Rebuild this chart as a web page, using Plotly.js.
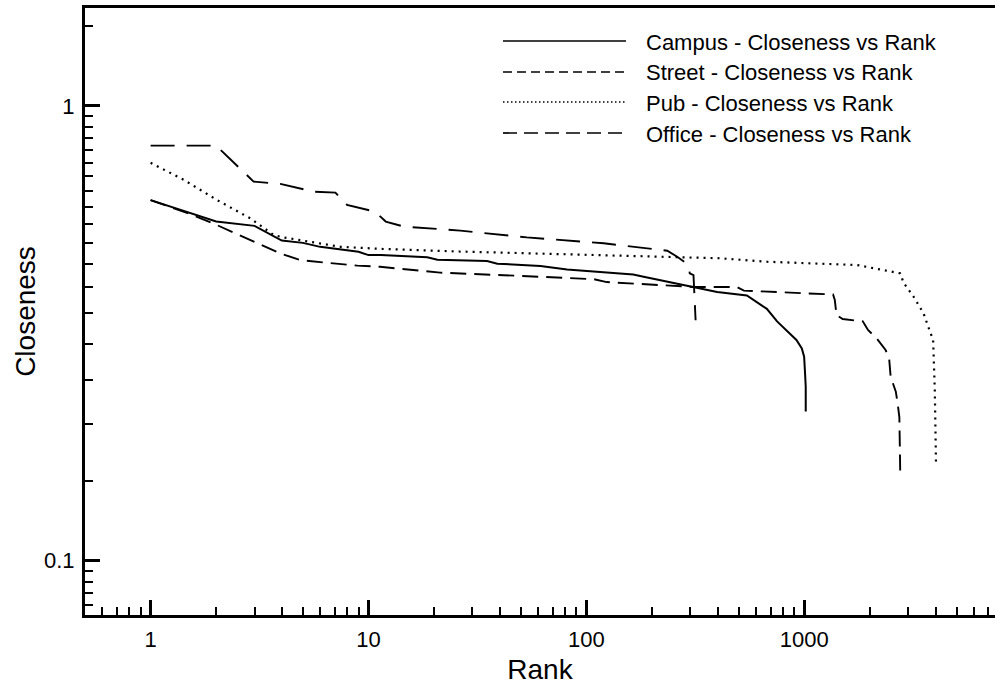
<!DOCTYPE html>
<html>
<head>
<meta charset="utf-8">
<script src="https://cdn.plot.ly/plotly-3.0.1.min.js"></script>
<style>html,body{margin:0;padding:0;background:#fff;}#chart{width:997px;height:687px;}</style>
</head>
<body>
<div id="chart"></div>
<script>
// ---- data (rank vs closeness, log-log) ----
const seriesNames = ["Campus - Closeness vs Rank", "Street - Closeness vs Rank", "Pub - Closeness vs Rank", "Office - Closeness vs Rank"];

const campusRank = [1, 2, 3, 4, 5, 6, 9, 10, 11.4, 18.6, 20.7, 35, 39, 61.5, 81.5, 164, 183, 310, 333, 398, 545, 583, 673, 750, 826, 920, 974, 998, 1008, 1015, 1015];
const campusCloseness = [0.621, 0.557, 0.545, 0.506, 0.50, 0.49, 0.478, 0.47, 0.47, 0.465, 0.459, 0.456, 0.45, 0.445, 0.437, 0.426, 0.421, 0.40, 0.397, 0.39, 0.383, 0.375, 0.358, 0.336, 0.3216, 0.3058, 0.293, 0.281, 0.258, 0.2414, 0.2128];

const streetRank = [1, 1.5, 2.02, 2.87, 3.94, 4.87, 8.9, 11.3, 18.6, 21.3, 49.6, 108, 124, 251, 310, 411, 490, 528, 1355, 1380, 1405, 1500, 1855, 1960, 2150, 2360, 2450, 2490, 2630, 2680, 2730, 2755];
const streetCloseness = [0.621, 0.58, 0.547, 0.5075, 0.474, 0.458, 0.4455, 0.443, 0.432, 0.43, 0.423, 0.416, 0.41, 0.402, 0.40, 0.40, 0.40, 0.3926, 0.385, 0.3745, 0.347, 0.34, 0.336, 0.3216, 0.308, 0.2906, 0.2787, 0.254, 0.2353, 0.222, 0.207, 0.157];

const pubRank = [1, 1.42, 2.02, 2.87, 3.68, 4.08, 7.45, 11.4, 26.4, 76, 242, 411, 673, 1744, 2750, 2860, 3170, 3525, 3750, 3900, 3970, 4020];
const pubCloseness = [0.75, 0.688, 0.621, 0.566, 0.52, 0.514, 0.49, 0.485, 0.4785, 0.4726, 0.466, 0.4625, 0.4545, 0.447, 0.4286, 0.408, 0.381, 0.35, 0.3216, 0.3058, 0.2373, 0.1648];

const officeRank = [1, 2, 2.97, 3.94, 5.6, 7.05, 7.97, 10.2, 10.96, 12, 14.5, 21.3, 26.4, 53.3, 120, 235, 261, 294, 298, 310, 317];
const officeCloseness = [0.818, 0.818, 0.682, 0.674, 0.648, 0.645, 0.606, 0.589, 0.58, 0.557, 0.543, 0.5355, 0.532, 0.514, 0.499, 0.4806, 0.466, 0.447, 0.4286, 0.4249, 0.338];

const xTickVals = [1, 10, 100, 1000];
const xTickText = ["1", "10", "100", "1000"];
const yTickVals = [0.1, 1];
const yTickText = ["0.1", "1"];
const xMinorVals = [0.6, 0.7, 0.8, 0.9, 2, 3, 4, 5, 6, 7, 8, 9, 20, 30, 40, 50, 60, 70, 80, 90, 200, 300, 400, 500, 600, 700, 800, 900, 2000, 3000, 4000, 5000, 6000, 7000];
const yMinorVals = [0.08, 0.085, 0.09, 0.095, 0.15, 0.2, 0.25, 0.3, 0.35, 0.4, 0.45, 0.5, 0.55, 0.6, 0.65, 0.7, 0.75, 0.8, 0.85, 0.9, 0.95, 1.5];

// ---- styles ----
const FONT = "Liberation Sans, Arial, Helvetica, sans-serif";
const traceDash = ["solid", "16px,8px", "2px,5px", "24px,12px"];
const traceWidth = [2, 1.9, 2.2, 1.9];
const legendDash = ["solid", "9px,5px", "1.5px,2.5px", "14px,7px"];
const xs = [campusRank, streetRank, pubRank, officeRank];
const ys = [campusCloseness, streetCloseness, pubCloseness, officeCloseness];

const traces = xs.map((x, i) => ({
  type: "scatter", mode: "lines", x: x, y: ys[i], name: seriesNames[i],
  line: {color: "#000", width: traceWidth[i], dash: traceDash[i]},
  showlegend: false
}));

// manual legend (long line samples like the reference)
const plotL = 85, plotR = 995, plotT = 8, plotB = 615;
const px = v => (v - plotL) / (plotR - plotL);
const py = v => (plotB - v) / (plotB - plotT);
const legendRowsY = [41, 72, 102, 133];
const shapes = legendRowsY.map((yy, i) => ({
  type: "line", xref: "paper", yref: "paper",
  x0: px(503), x1: px(626), y0: py(yy), y1: py(yy),
  line: {color: "#000", width: 1.7, dash: legendDash[i]}
}));
const annotations = legendRowsY.map((yy, i) => ({
  xref: "paper", yref: "paper", x: px(644), y: py(yy + 1),
  xanchor: "left", yanchor: "middle", showarrow: false,
  text: seriesNames[i], font: {family: FONT, size: 22, color: "#000"}
}));

const layout = {
  width: 997, height: 687,
  margin: {l: plotL, r: 997 - plotR, t: plotT, b: 687 - plotB, pad: 0},
  paper_bgcolor: "#fff", plot_bgcolor: "#fff",
  font: {family: FONT, color: "#000"},
  showlegend: false,
  xaxis: {
    type: "log", range: [Math.log10(0.5), Math.log10(7500)],
    showline: true, linecolor: "#000", linewidth: 3, mirror: true,
    showgrid: false, zeroline: false,
    ticks: "inside", ticklen: 15, tickwidth: 3, tickcolor: "#000",
    tickmode: "array", tickvals: xTickVals, ticktext: xTickText,
    tickfont: {family: FONT, size: 22, color: "#000"},
    ticklabelstandoff: 3,
    minor: {tickmode: "array", tickvals: xMinorVals, ticks: "inside", ticklen: 8, tickwidth: 2, tickcolor: "#000", showgrid: false},
    title: {text: "Rank", font: {family: FONT, size: 28, color: "#000"}, standoff: 8},
    automargin: false
  },
  yaxis: {
    type: "log", range: [-1.1194, 0.2155],
    showline: true, linecolor: "#000", linewidth: 3,
    showgrid: false, zeroline: false,
    ticks: "inside", ticklen: 15, tickwidth: 3, tickcolor: "#000",
    tickmode: "array", tickvals: yTickVals, ticktext: yTickText,
    tickfont: {family: FONT, size: 22, color: "#000"},
    ticklabelstandoff: 3,
    minor: {tickmode: "array", tickvals: yMinorVals, ticks: "inside", ticklen: 8, tickwidth: 2, tickcolor: "#000", showgrid: false},
    title: {text: "Closeness", font: {family: FONT, size: 28, color: "#000"}, standoff: 1},
    automargin: false
  },
  shapes: shapes,
  annotations: annotations
};

Plotly.newPlot("chart", traces, layout, {displayModeBar: false, staticPlot: true});
</script>
</body>
</html>
